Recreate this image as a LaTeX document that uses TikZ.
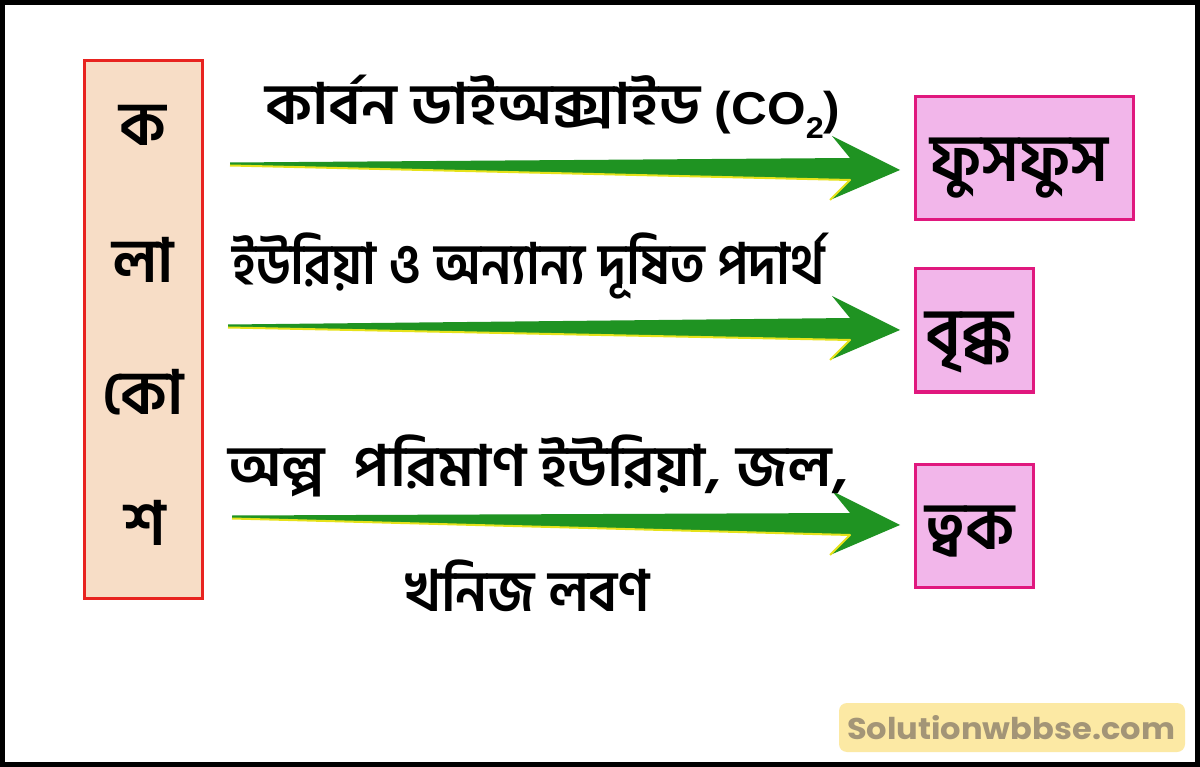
\documentclass[tikz,border=0pt]{standalone}
\usepackage{fontspec}
\newfontfamily\bn[Script=Bengali]{Hind Siliguri}
\newfontfamily\lat{Liberation Sans}
\newfontfamily\wm{Poppins}
\usetikzlibrary{calc}
\definecolor{leftfill}{HTML}{F7DDC6}
\definecolor{leftdraw}{HTML}{E8231F}
\definecolor{rightfill}{HTML}{F2B6EA}
\definecolor{rightdraw}{HTML}{E0187E}
\definecolor{arrowgreen}{HTML}{1F9322}
\definecolor{arrowyellow}{HTML}{E6E21A}
\definecolor{wmfill}{HTML}{FCE9A4}
\definecolor{wmtext}{HTML}{A39577}
\newcommand\grarrow[2]{%
  \fill[arrowgreen] ($(#1)+(0,-1.5)$) -- ($(#2)+(-50,-12)$) -- ($(#2)+(-68,-34)$) -- (#2)
     -- ($(#2)+(-70,30)$) -- ($(#2)+(-50,10)$) -- ($(#1)+(0,1.5)$) -- cycle;
  \draw[arrowyellow, line width=2pt, line join=round] ($(#1)+(0,1.5)$) -- ($(#2)+(-50,10)$) -- ($(#2)+(-70,30)$);
}
\begin{document}
\begin{tikzpicture}[x=1pt,y=-1pt,
  leftbox/.style={draw=leftdraw, fill=leftfill, line width=3pt, minimum width=118pt, minimum height=537pt, inner sep=0pt},
  organbox/.style={draw=rightdraw, fill=rightfill, line width=3pt, minimum height=123pt, inner sep=0pt},
  boxtext/.style={font=\bn\bfseries\fontsize{61}{66}\selectfont, inner sep=0pt},
  labeltext/.style={font=\bn\bfseries\fontsize{57}{62}\selectfont, inner sep=0pt, anchor=base west},
  organtext/.style={font=\bn\bfseries\fontsize{66}{70}\selectfont, inner sep=0pt}]
\useasboundingbox (0,0) rectangle (1200,767);
\fill[white] (0,0) rectangle (1200,767);
\draw[line width=5pt] (2.5,2.5) rectangle (1197.5,764.5);

% left box
\node[leftbox] (kb) at (143,329.5) {};
\node[boxtext] (t1) at (143,125) {ক};
\node[boxtext] (t2) at (143,260) {লা};
\node[boxtext] (t3) at (143,392) {কো};
\node[boxtext] (t4) at (145,523) {শ};

% organ boxes
\node[organbox, minimum width=218pt] (lung) at (1024,158.5) {};
\node[organtext] (lungt) at (1019,168) {\resizebox{178pt}{\height}{ফুসফুস}};
\node[organbox, minimum width=118pt] (kid) at (974,330.5) {};
\node[organtext] (kidt) at (969,342) {\resizebox{88pt}{\height}{বৃক্ক}};
\node[organbox, minimum width=118pt] (skin) at (974,525.5) {};
\node[organtext] (skint) at (970,532) {\resizebox{90pt}{\height}{ত্বক}};

% arrows
\coordinate (a1s) at (230,164); \coordinate (a1e) at (900,170);
\coordinate (a2s) at (228,326); \coordinate (a2e) at (900,330);
\coordinate (a3s) at (232,517); \coordinate (a3e) at (900,525);
\grarrow{a1s}{a1e}
\grarrow{a2s}{a2e}
\grarrow{a3s}{a3e}

% labels
\node[labeltext] (l1) at (265,125) {\resizebox{575pt}{\height}{কার্বন ডাইঅক্সাইড {\lat\fontsize{46}{50}\selectfont (CO\raisebox{-0.3em}{\fontsize{30}{32}\selectfont 2})}}};
\node[labeltext] (l2) at (232,285) {\resizebox{593pt}{\height}{ইউরিয়া ও অন্যান্য দূষিত পদার্থ}};
\node[labeltext] (l3) at (228,486) {\resizebox{620pt}{\height}{অল্প\ \ পরিমাণ ইউরিয়া, জল,}};
\node[labeltext] (l4) at (405,611) {\resizebox{245pt}{\height}{খনিজ লবণ}};

% watermark
\node[fill=wmfill, rounded corners=8pt, minimum width=346pt, minimum height=49pt, inner sep=0pt] (wm) at (1012,727.5) {};
\node[text=wmtext, font=\wm\bfseries\fontsize{30}{34}\selectfont, inner sep=0pt] (wmt) at (1011,728) {\resizebox{328pt}{\height}{Solutionwbbse.com}};
\end{tikzpicture}
\end{document}
